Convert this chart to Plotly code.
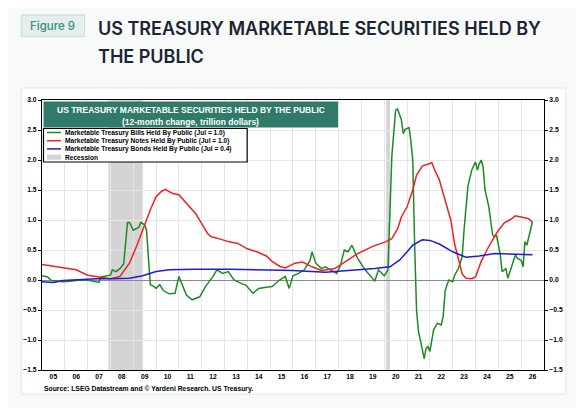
import plotly.graph_objects as go

# --- data (12-month change, trillion dollars) ---
bills_dates = ["2005-01", "2005-04", "2005-06", "2005-12", "2006-04", "2006-09", "2007-02", "2007-07",
               "2007-08", "2008-01", "2008-02", "2008-04", "2008-06", "2008-07", "2008-08", "2008-10",
               "2008-11", "2009-01", "2009-04", "2009-05", "2009-07", "2009-08", "2009-09", "2009-10",
               "2009-12", "2010-01", "2010-03", "2010-05", "2010-08", "2010-11", "2011-01", "2011-03",
               "2011-05", "2011-08", "2011-12", "2012-03", "2012-07", "2012-09", "2012-12", "2013-03",
               "2013-06", "2013-10", "2013-12", "2014-04", "2014-07", "2014-11", "2015-02", "2015-06",
               "2015-09", "2015-11", "2016-01", "2016-04", "2016-07", "2016-10", "2016-11", "2017-01",
               "2017-04", "2017-06", "2017-09", "2017-12", "2018-02", "2018-04", "2018-06", "2018-08",
               "2018-11", "2019-03", "2019-06", "2019-08", "2019-10", "2020-01", "2020-03", "2020-04",
               "2020-05", "2020-07", "2020-08", "2020-10", "2020-11", "2020-12", "2021-02", "2021-03",
               "2021-04", "2021-05", "2021-06", "2021-07", "2021-08", "2021-10", "2021-11", "2021-12",
               "2022-01", "2022-03", "2022-05", "2022-07", "2022-08", "2022-09", "2022-10", "2022-11",
               "2023-01", "2023-02", "2023-04", "2023-06", "2023-07", "2023-08", "2023-09", "2023-11",
               "2024-01", "2024-02", "2024-03", "2024-04", "2024-05", "2024-06", "2024-08", "2024-10",
               "2024-11", "2024-12", "2025-01", "2025-02", "2025-03", "2025-05", "2025-06", "2025-08",
               "2025-10", "2025-11", "2026-01", "2026-02", "2026-03", "2026-04", "2026-06", "2026-07"]
bills_vals = [0.07, 0.05, -0.01, -0.03, -0.02, 0.00, -0.01, -0.04,
              0.05, 0.08, 0.17, 0.14, 0.19, 0.24, 0.27, 0.96,
              0.96, 0.83, 0.88, 0.96, 0.92, 0.83, 0.44, -0.08,
              -0.11, -0.14, -0.08, -0.18, -0.23, -0.22, 0.06, -0.11,
              -0.25, -0.33, -0.28, -0.11, 0.06, 0.17, 0.11, 0.14,
              0.00, -0.06, -0.08, -0.22, -0.14, -0.12, -0.11, 0.00,
              0.06, -0.14, 0.07, 0.11, 0.17, 0.33, 0.47, 0.28,
              0.19, 0.22, 0.17, 0.11, 0.25, 0.50, 0.47, 0.58,
              0.36, 0.17, 0.06, -0.02, 0.17, 0.07, 0.17, 1.00,
              2.06, 2.83, 2.85, 2.67, 2.44, 2.51, 2.54, 2.33,
              2.00, 0.60, -0.50, -0.85, -1.00, -1.31, -1.14, -1.11,
              -1.19, -0.83, -0.72, -0.75, -0.61, -0.19, -0.08, 0.00,
              -0.03, 0.08, 0.19, 0.39, 0.83, 1.22, 1.56, 1.83,
              1.97, 1.83, 1.94, 2.00, 1.88, 1.50, 1.22, 0.75,
              0.72, 0.75, 0.58, 0.42, 0.14, 0.19, 0.03, 0.22,
              0.42, 0.36, 0.33, 0.22, 0.64, 0.58, 0.83, 0.97]

notes_dates = ["2005-01", "2005-12", "2006-07", "2007-01", "2007-07", "2008-01", "2008-06", "2008-11",
               "2009-03", "2009-06", "2009-08", "2009-10", "2010-01", "2010-04", "2010-06", "2010-08",
               "2010-10", "2011-01", "2011-03", "2011-05", "2011-08", "2011-10", "2012-01", "2012-04",
               "2012-06", "2012-10", "2013-03", "2013-08", "2014-01", "2014-06", "2014-11", "2015-02",
               "2015-06", "2015-09", "2016-02", "2016-06", "2016-11", "2017-04", "2017-11", "2018-06",
               "2018-11", "2019-07", "2020-02", "2020-05", "2020-08", "2020-10", "2021-01", "2021-04",
               "2021-06", "2021-09", "2021-12", "2022-02", "2022-04", "2022-06", "2022-09", "2022-12",
               "2023-02", "2023-04", "2023-06", "2023-08", "2023-11", "2024-01", "2024-04", "2024-07",
               "2024-09", "2024-12", "2025-04", "2025-07", "2025-10", "2026-03", "2026-05", "2026-07"]
notes_vals = [0.26, 0.21, 0.17, 0.08, 0.045, 0.02, 0.06, 0.28,
              0.58, 0.85, 1.00, 1.17, 1.39, 1.48, 1.51, 1.47,
              1.44, 1.42, 1.35, 1.28, 1.17, 1.10, 0.94, 0.78,
              0.72, 0.69, 0.64, 0.61, 0.52, 0.47, 0.40, 0.31,
              0.23, 0.20, 0.28, 0.30, 0.22, 0.16, 0.19, 0.33,
              0.44, 0.56, 0.64, 0.69, 0.85, 1.05, 1.22, 1.50,
              1.75, 1.90, 1.93, 1.955, 1.80, 1.67, 1.33, 1.00,
              0.60, 0.33, 0.10, 0.03, 0.02, 0.05, 0.31, 0.50,
              0.61, 0.78, 0.95, 1.00, 1.07, 1.03, 1.02, 0.96]

bonds_dates = ["2005-01", "2005-07", "2005-12", "2006-09", "2007-06", "2008-02", "2008-11", "2009-06",
               "2010-01", "2010-08", "2011-10", "2013-04", "2014-07", "2016-01", "2017-06", "2018-03",
               "2018-12", "2019-08", "2020-04", "2020-09", "2021-01", "2021-04", "2021-09", "2022-01",
               "2022-06", "2023-01", "2023-08", "2024-03", "2024-11", "2025-08", "2026-07"]
bonds_vals = [-0.03, -0.04, -0.01, 0.01, 0.02, 0.02, 0.03, 0.07,
              0.14, 0.17, 0.18, 0.18, 0.17, 0.16, 0.13, 0.15,
              0.18, 0.19, 0.22, 0.33, 0.47, 0.58, 0.67, 0.66,
              0.60, 0.47, 0.38, 0.40, 0.44, 0.43, 0.42]

recession_start = ["2007-12-01", "2020-02-01"]
recession_end = ["2009-06-01", "2020-04-01"]

legend_labels = ["Marketable Treasury Bills Held By Public (Jul = 1.0)",
                 "Marketable Treasury Notes Held By Public (Jul = 1.0)",
                 "Marketable Treasury Bonds Held By Public (Jul = 0.4)",
                 "Recession"]

GREEN = "#1f8a24"
RED = "#ee2222"
BLUE = "#1c1cd9"
TEAL = "#2f7a69"
CHART_FONT = "Liberation Sans"

# the page body has an 8px margin, so the figure is drawn 8px smaller
# and all positions below are given in window pixels
PAGE = 8
WIN_W, WIN_H = 584, 408
W, H = WIN_W - PAGE, WIN_H - PAGE
L, R, T, B = 41.5, 544.3, 100, 370


def px(x):
    return (x - L) / (R - L)


def py(y):
    return (B - y) / (B - T)


fig = go.Figure()

fig.add_trace(go.Scatter(x=bills_dates, y=bills_vals, mode="lines",
                         line=dict(color=GREEN, width=1.5), showlegend=False))
fig.add_trace(go.Scatter(x=notes_dates, y=notes_vals, mode="lines",
                         line=dict(color=RED, width=1.5), showlegend=False))
fig.add_trace(go.Scatter(x=bonds_dates, y=bonds_vals, mode="lines",
                         line=dict(color=BLUE, width=1.5), showlegend=False))
# empty trace so the right-hand axis gets drawn
fig.add_trace(go.Scatter(x=[bonds_dates[0]], y=[None], yaxis="y2", showlegend=False,
                         hoverinfo="skip"))

shapes = []
# white card behind the chart image
shapes.append(dict(type="rect", xref="paper", yref="paper", layer="below",
                   x0=px(20.7), x1=px(566), y0=py(394), y1=py(88),
                   fillcolor="white", line=dict(color="#e2e4e6", width=1)))
for s, e in zip(recession_start, recession_end):
    shapes.append(dict(type="rect", xref="x", yref="paper", x0=s, x1=e, y0=0, y1=1,
                       fillcolor="#d4d4d4", line=dict(width=0), layer="below"))
# figure badge
shapes.append(dict(type="rect", xref="paper", yref="paper",
                   x0=px(20.7), x1=px(84), y0=py(36.7), y1=py(15),
                   fillcolor="#e4efed", line=dict(color="#c6dcd8", width=1)))
# header box inside the chart
shapes.append(dict(type="rect", xref="paper", yref="paper",
                   x0=px(43), x1=px(338), y0=py(127.5), y1=py(101.5),
                   fillcolor=TEAL, line=dict(width=0)))
# legend box
shapes.append(dict(type="rect", xref="paper", yref="paper",
                   x0=px(43), x1=px(247), y0=py(162), y1=py(128.5),
                   fillcolor="white", line=dict(color="black", width=1.2)))

row_y = [132.5, 140.7, 148.9, 157.1]
for i, c in enumerate([GREEN, RED, BLUE]):
    shapes.append(dict(type="line", xref="paper", yref="paper",
                       x0=px(46.5), x1=px(60.5), y0=py(row_y[i]), y1=py(row_y[i]),
                       line=dict(color=c, width=1.5)))
shapes.append(dict(type="rect", xref="paper", yref="paper",
                   x0=px(46.5), x1=px(60.5), y0=py(row_y[3] + 2.5), y1=py(row_y[3] - 2.5),
                   fillcolor="#d4d4d4", line=dict(width=0)))

annotations = []
for i, lab in enumerate(legend_labels):
    annotations.append(dict(xref="paper", yref="paper", x=px(63), y=py(row_y[i]),
                            xanchor="left", yanchor="middle", text=lab, showarrow=False,
                            font=dict(family=CHART_FONT, size=6.6, color="black", weight="bold")))

annotations.append(dict(xref="paper", yref="paper", x=px(190.5), y=py(109.5),
                        text="US TREASURY MARKETABLE SECURITIES HELD BY THE PUBLIC",
                        showarrow=False, xanchor="center", yanchor="middle",
                        font=dict(family=CHART_FONT, size=8.5, color="white", weight="bold")))
annotations.append(dict(xref="paper", yref="paper", x=px(190.5), y=py(121.5),
                        text="(12-month change, trillion dollars)",
                        showarrow=False, xanchor="center", yanchor="middle",
                        font=dict(family=CHART_FONT, size=8.5, color="white", weight="bold")))
annotations.append(dict(xref="paper", yref="paper", x=px(41), y=py(388.5),
                        text="Source: LSEG Datastream and © Yardeni Research. US Treasury.",
                        showarrow=False, xanchor="left", yanchor="middle",
                        font=dict(family=CHART_FONT, size=6.8, color="black", weight="bold")))

# page heading
annotations.append(dict(xref="paper", yref="paper", x=px(52.4), y=py(26),
                        text="Figure 9", showarrow=False, xanchor="center", yanchor="middle",
                        font=dict(family="Inter", size=11.5, color="#3b8a80", weight=500)))
annotations.append(dict(xref="paper", yref="paper", x=px(95.5), y=py(28.5),
                        text="US TREASURY MARKETABLE SECURITIES HELD BY",
                        showarrow=False, xanchor="left", yanchor="middle",
                        font=dict(family="Inter", size=18, color="#1b2433", weight=600)))
annotations.append(dict(xref="paper", yref="paper", x=px(95.5), y=py(56.5),
                        text="THE PUBLIC",
                        showarrow=False, xanchor="left", yanchor="middle",
                        font=dict(family="Inter", size=18, color="#1b2433", weight=600)))

tick_font = dict(family=CHART_FONT, size=6.8, color="black", weight="bold")
yaxis_common = dict(range=[-1.5, 3.0], dtick=0.5, tick0=0, tickformat=".1f",
                    ticks="outside", ticklen=3, tickcolor="black",
                    tickfont=tick_font, fixedrange=True)

fig.update_layout(
    width=W, height=H,
    margin=dict(l=L - PAGE, r=WIN_W - R, t=T - PAGE, b=WIN_H - B, autoexpand=False),
    paper_bgcolor="#f8f9f9",
    plot_bgcolor="white",
    showlegend=False,
    shapes=shapes,
    annotations=annotations,
    xaxis=dict(type="date", range=["2005-01-01", "2027-01-01"],
               dtick="M12", tick0="2005-01-01", tickformat="%y", ticklabelmode="period",
               showgrid=True, gridcolor="#e6e6e6", gridwidth=1,
               showline=True, linecolor="black", linewidth=1, mirror=True,
               ticks="", tickfont=tick_font, fixedrange=True),
    yaxis=dict(showgrid=True, gridcolor="#e6e6e6", gridwidth=1,
               zeroline=True, zerolinecolor="#8a8a8a", zerolinewidth=1,
               showline=True, linecolor="black", linewidth=1, mirror=True,
               **yaxis_common),
    yaxis2=dict(overlaying="y", side="right", showgrid=False, zeroline=False,
                showline=False, **yaxis_common),
)

fig.write_html("out.html")
